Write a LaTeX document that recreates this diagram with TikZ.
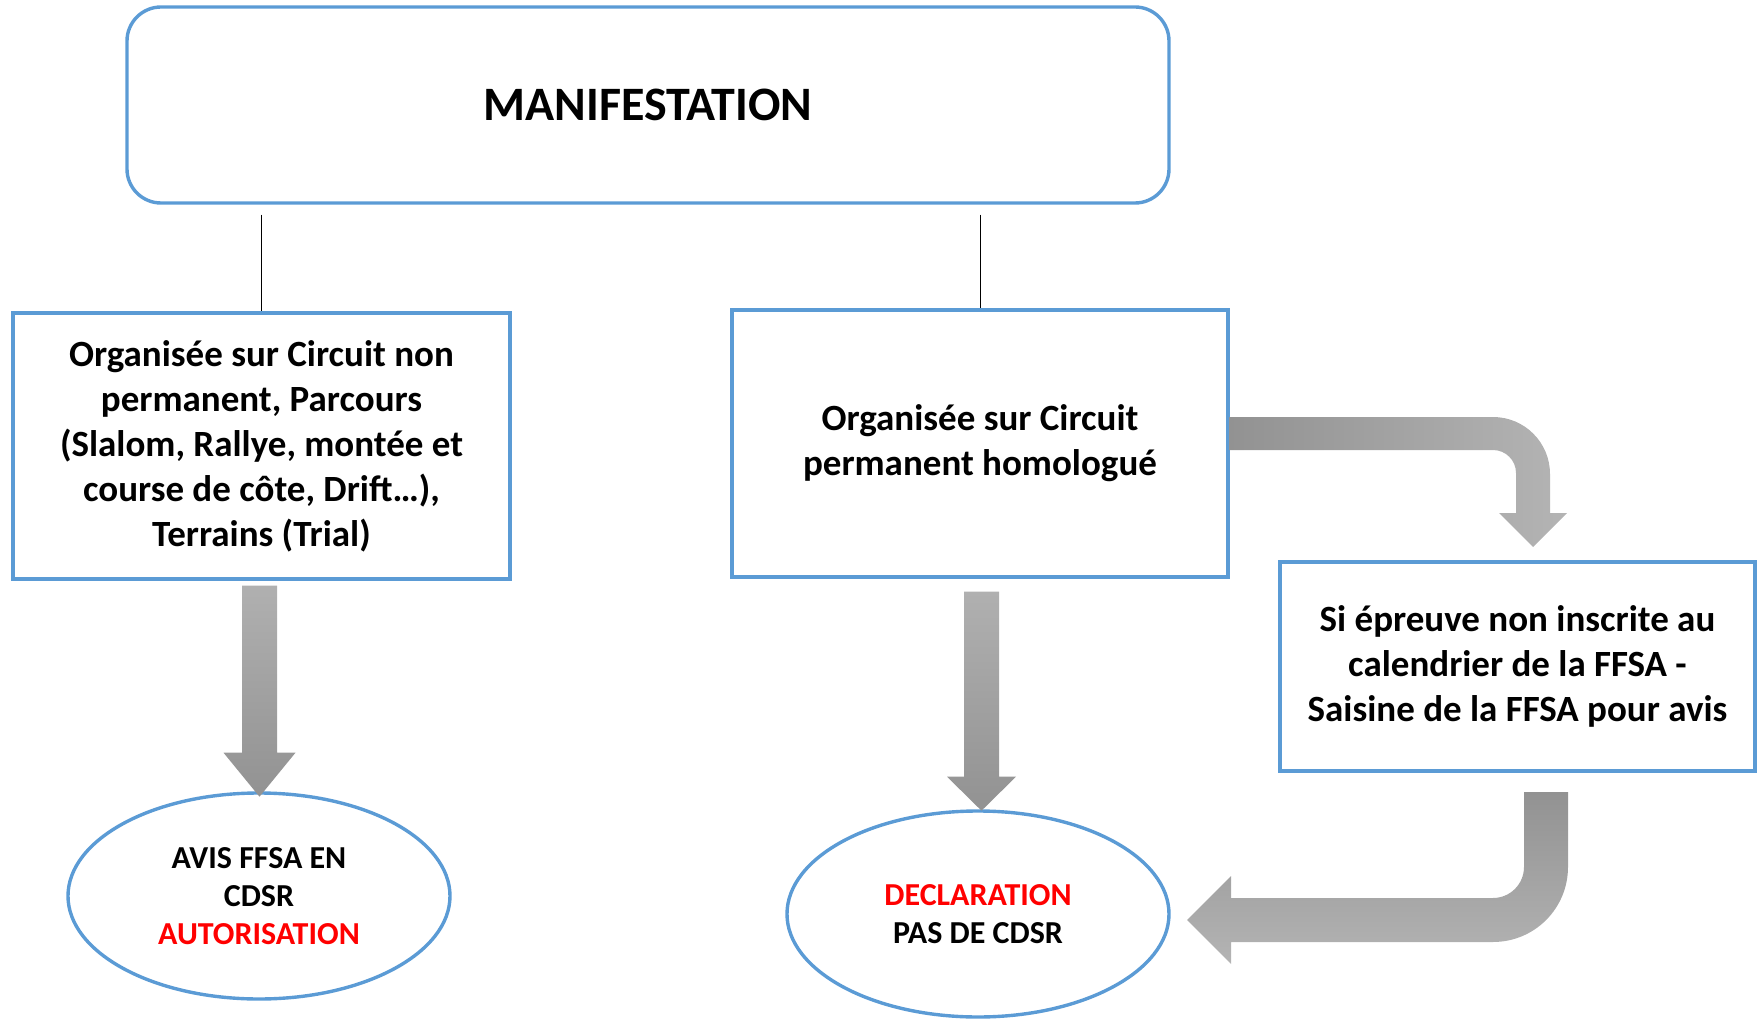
\documentclass[tikz,border=0pt]{standalone}
\usepackage{fontspec}
\setmainfont{Carlito}
\usetikzlibrary{shapes.geometric,calc,positioning}

\definecolor{boxblue}{HTML}{5B9BD5}
\definecolor{avisred}{HTML}{FF0000}
\definecolor{arrowlight}{HTML}{B0B0B0}
\definecolor{arrowdark}{HTML}{929292}

\tikzset{
  box/.style={draw=boxblue,line width=3.4pt,align=center,
    font=\bfseries\fontsize{37}{45}\selectfont},
  oval/.style={ellipse,draw=boxblue,line width=3.4pt,align=center,
    minimum width=382pt,minimum height=206pt,
    font=\bfseries\fontsize{32}{38}\selectfont},
  link/.style={line width=1pt,shorten <=10pt},
}

\begin{document}
\begin{tikzpicture}[x=1pt,y=-1pt]
\useasboundingbox (0,0) rectangle (1757,1019);

\node (title) [box,rounded corners=34pt,minimum width=1042pt,minimum height=196pt,
  font=\bfseries\fontsize{48}{56}\selectfont] at (648,105) {MANIFESTATION};

\node (left) [box,minimum width=497pt,minimum height=266pt] at (261.5,446)
  {Organisée sur Circuit non\\permanent, Parcours\\(Slalom, Rallye, montée et\\course de côte, Drift…),\\Terrains (Trial)};
\node (mid) [box,minimum width=496pt,minimum height=267pt] at (980,443.5)
  {Organisée sur Circuit\\permanent homologué};
\node (right) [box,minimum width=475pt,minimum height=209pt] at (1517.5,666.5)
  {Si épreuve non inscrite au\\calendrier de la FFSA -\\Saisine de la FFSA pour avis};

\node (avis) [oval] at (259,896) {AVIS FFSA EN\\CDSR\\\textcolor{avisred}{AUTORISATION}};
\node (decl) [oval] at (978,914) {\textcolor{avisred}{DECLARATION}\\PAS DE CDSR};

% thin links from the top box
\draw[link] (title.south -| left.north) -- (left.north);
\draw[link] (title.south -| mid.north) -- (mid.north);

% straight block arrows
\coordinate (a1) at ($(left.south)+(-2,5)$);
\coordinate (a2) at ($(mid.south)+(1.5,13)$);
\shade[top color=arrowlight,bottom color=arrowdark] (a1) ++(-17.5,0) -- ++(35,0) -- ++(0,167)
  -- ++(18.5,0) -- ++(-36,44) -- ++(-36,-44) -- ++(18.5,0) -- cycle;
\shade[top color=arrowlight,bottom color=arrowdark] (a2) ++(-17.5,0) -- ++(35,0) -- ++(0,185)
  -- ++(17,0) -- ++(-34.5,34) -- ++(-34.5,-34) -- ++(17,0) -- cycle;

% bent block arrows
\shade[left color=arrowdark,right color=arrowlight!95!white] (1229,417) -- (1493,417)
  .. controls (1524.5,417) and (1550,442.5) .. (1550,474) -- (1550,513) -- (1567,513)
  -- (1533,547) -- (1499,513) -- (1516,513) -- (1516,473)
  .. controls (1516,460.3) and (1505.7,450) .. (1493,450) -- (1229,450) -- cycle;
\shade[top color=arrowdark,bottom color=arrowlight!95!white] (1524,792) -- (1568,792) -- (1568,867)
  .. controls (1568,908.4) and (1534.6,942) .. (1493,942) -- (1231,942) -- (1231,964)
  -- (1187,920) -- (1231,876) -- (1231,898) -- (1493,898)
  .. controls (1510.1,898) and (1524,884.1) .. (1524,867) -- cycle;
\end{tikzpicture}
\end{document}
